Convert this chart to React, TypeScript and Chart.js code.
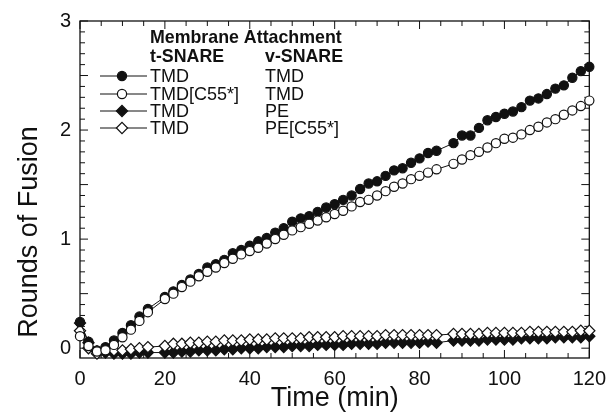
import React, { useEffect, useRef } from "react";
import { Chart, registerables } from "chart.js";

Chart.register(...registerables);

const FONT = '"Liberation Sans", Arial, Helvetica, sans-serif';

// sampling times (min) — note missing samples at 18 and 86 min
const timeMin = [
  0, 2, 4, 6, 8, 10, 12, 14, 16,
  20, 22, 24, 26, 28, 30, 32, 34, 36, 38, 40, 42, 44, 46, 48, 50, 52, 54, 56, 58, 60,
  62, 64, 66, 68, 70, 72, 74, 76, 78, 80, 82, 84,
  88, 90, 92, 94, 96, 98, 100, 102, 104, 106, 108, 110, 112, 114, 116, 118, 120,
];

// t-SNARE TMD / v-SNARE TMD (filled circles)
const tmdTmd = [
  0.24, 0.06, -0.02, 0.01, 0.07, 0.14, 0.21, 0.29, 0.36,
  0.47, 0.52, 0.58, 0.63, 0.68, 0.74, 0.77, 0.81, 0.87, 0.9, 0.94, 0.98, 1.01, 1.06, 1.1, 1.16,
  1.19, 1.21, 1.25, 1.29, 1.32, 1.36, 1.4, 1.46, 1.51, 1.53, 1.58, 1.63, 1.65, 1.7, 1.74, 1.79, 1.81,
  1.88, 1.95, 1.95, 2.02, 2.09, 2.12, 2.15, 2.17, 2.21, 2.27, 2.29, 2.33, 2.38, 2.41, 2.48, 2.54, 2.58,
];

// t-SNARE TMD[C55*] / v-SNARE TMD (open circles)
const c55Tmd = [
  0.11, 0.02, -0.03, -0.02, 0.03, 0.1, 0.17, 0.25, 0.33,
  0.45, 0.5, 0.56, 0.61, 0.66, 0.7, 0.74, 0.78, 0.82, 0.86, 0.89, 0.92, 0.96, 1.0, 1.04, 1.08,
  1.11, 1.14, 1.17, 1.2, 1.23, 1.26, 1.3, 1.34, 1.36, 1.4, 1.44, 1.48, 1.51, 1.55, 1.58, 1.61, 1.64,
  1.69, 1.73, 1.77, 1.8, 1.84, 1.88, 1.92, 1.93, 1.96, 2.0, 2.03, 2.07, 2.1, 2.14, 2.18, 2.22, 2.27,
];

// t-SNARE TMD / v-SNARE PE (filled diamonds)
const tmdPe = [
  0.23, 0.05, -0.03, -0.04, -0.05, -0.05, -0.05, -0.04, -0.04,
  -0.04, -0.04, -0.03, -0.03, -0.02, -0.02, -0.02, -0.01, -0.01, 0.0, 0.0, 0.0, 0.01, 0.01, 0.01, 0.02,
  0.02, 0.02, 0.03, 0.03, 0.03, 0.03, 0.04, 0.04, 0.04, 0.04, 0.05, 0.05, 0.05, 0.05, 0.05, 0.06, 0.05,
  0.07, 0.07, 0.07, 0.07, 0.08, 0.08, 0.08, 0.08, 0.09, 0.09, 0.09, 0.09, 0.1, 0.1, 0.1, 0.1, 0.11,
];

// t-SNARE TMD / v-SNARE PE[C55*] (open diamonds)
const tmdPeC55 = [
  0.16, 0.0, -0.05, -0.02, -0.02, -0.02, -0.01, 0.0, 0.01,
  0.02, 0.04, 0.04, 0.05, 0.05, 0.06, 0.06, 0.07, 0.07, 0.07, 0.08, 0.08, 0.08, 0.09, 0.09, 0.09,
  0.09, 0.1, 0.1, 0.1, 0.1, 0.11, 0.11, 0.11, 0.11, 0.11, 0.12, 0.12, 0.12, 0.12, 0.12, 0.12, 0.12,
  0.13, 0.13, 0.13, 0.13, 0.14, 0.14, 0.14, 0.14, 0.14, 0.15, 0.15, 0.15, 0.15, 0.15, 0.15, 0.16, 0.16,
];

const xTickLabels = [0, 20, 40, 60, 80, 100, 120];
const yTickLabels = [0, 1, 2, 3];
const xTitle = "Time (min)";
const yTitle = "Rounds of Fusion";
const legendHeader = "Membrane Attachment";
const legendColumns = ["t-SNARE", "v-SNARE"];
const legendTSnare = ["TMD", "TMD[C55*]", "TMD", "TMD"];
const legendVSnare = ["TMD", "TMD", "PE", "PE[C55*]"];

type Marker = { shape: "circle" | "diamond"; filled: boolean };
const markers: Marker[] = [
  { shape: "circle", filled: true },
  { shape: "circle", filled: false },
  { shape: "diamond", filled: true },
  { shape: "diamond", filled: false },
];
const seriesValues = [tmdTmd, c55Tmd, tmdPe, tmdPeC55];
const drawOrder = [2, 1, 4, 3];

const INK = "#111";

function drawMarker(ctx: CanvasRenderingContext2D, m: Marker, x: number, y: number) {
  ctx.save();
  ctx.beginPath();
  if (m.shape === "circle") {
    ctx.arc(x, y, 4.6, 0, Math.PI * 2);
  } else {
    const r = 5.6;
    ctx.moveTo(x - r, y);
    ctx.lineTo(x, y - r);
    ctx.lineTo(x + r, y);
    ctx.lineTo(x, y + r);
    ctx.closePath();
  }
  ctx.fillStyle = m.filled ? INK : "#fff";
  ctx.fill();
  ctx.lineWidth = 1.2;
  ctx.strokeStyle = INK;
  ctx.stroke();
  ctx.restore();
}

const framePlugin = {
  id: "frame",
  beforeDatasetsDraw(chart: any) {
    const { ctx, chartArea } = chart;
    const { left, right, top, bottom } = chartArea;
    const xs = chart.scales.x;
    const ys = chart.scales.y;
    ctx.save();
    ctx.strokeStyle = INK;
    ctx.lineWidth = 1.3;
    ctx.strokeRect(left, top, right - left, bottom - top);
    ctx.lineWidth = 1;
    ctx.beginPath();
    for (let i = 0; i <= 24; i++) {
      const v = i * 5;
      const px = xs.getPixelForValue(v);
      const len = v % 20 === 0 ? 8 : 5;
      ctx.moveTo(px, bottom);
      ctx.lineTo(px, bottom - len);
      ctx.moveTo(px, top);
      ctx.lineTo(px, top + len);
    }
    for (let i = 0; i <= 30; i++) {
      const v = i / 10;
      const py = ys.getPixelForValue(v);
      const len = i % 5 === 0 ? 8 : 5;
      ctx.moveTo(left, py);
      ctx.lineTo(left + len, py);
      ctx.moveTo(right, py);
      ctx.lineTo(right - len, py);
    }
    ctx.stroke();
    ctx.restore();
  },
  afterDatasetsDraw(chart: any) {
    const { ctx, chartArea } = chart;
    ctx.save();
    ctx.fillStyle = INK;
    // axis titles
    ctx.font = `27px ${FONT}`;
    ctx.textAlign = "center";
    ctx.textBaseline = "middle";
    ctx.fillText(xTitle, (chartArea.left + chartArea.right) / 2, 399);
    ctx.save();
    ctx.translate(30, 232);
    ctx.rotate(-Math.PI / 2);
    ctx.fillText(yTitle, 0, 0);
    ctx.restore();

    // legend
    const textX = 150;
    const col2X = 265;
    ctx.textAlign = "left";
    ctx.font = `bold 17.8px ${FONT}`;
    ctx.fillText(legendHeader, textX, 38);
    ctx.fillText(legendColumns[0], textX, 57);
    ctx.fillText(legendColumns[1], col2X, 57);
    ctx.font = `18px ${FONT}`;
    const rowY = [76, 94, 111, 128];
    for (let i = 0; i < legendTSnare.length; i++) {
      const y = rowY[i];
      ctx.beginPath();
      ctx.strokeStyle = INK;
      ctx.lineWidth = 1;
      ctx.moveTo(100, y);
      ctx.lineTo(147, y);
      ctx.stroke();
      drawMarker(ctx, markers[i], 122, y);
      ctx.fillStyle = INK;
      ctx.fillText(legendTSnare[i], textX, y + 1);
      ctx.fillText(legendVSnare[i], col2X, y + 1);
    }
    ctx.restore();
  },
};

export default function App() {
  const canvasRef = useRef<HTMLCanvasElement | null>(null);

  useEffect(() => {
    const canvas = canvasRef.current;
    if (!canvas) return;
    const datasets = seriesValues.map((vals, i) => {
      const m = markers[i];
      return {
        label: `${legendTSnare[i]} / ${legendVSnare[i]}`,
        data: timeMin.map((t, j) => ({ x: t, y: vals[j] })),
        borderColor: INK,
        borderWidth: 1,
        pointStyle: m.shape === "circle" ? "circle" : "rectRot",
        pointRadius: m.shape === "circle" ? 4.6 : 5.6,
        pointBorderWidth: 1.2,
        pointBorderColor: INK,
        pointBackgroundColor: m.filled ? INK : "#fff",
        backgroundColor: m.filled ? INK : "#fff",
        tension: 0,
        clip: false as any,
        order: drawOrder[i],
      };
    });
    const chart = new Chart(canvas, {
      type: "line",
      data: { datasets: datasets as any },
      options: {
        animation: false,
        responsive: false,
        devicePixelRatio: 1,
        layout: { padding: { left: 0, right: 24, top: 19, bottom: 0 } },
        plugins: { legend: { display: false }, tooltip: { enabled: false } },
        scales: {
          x: {
            type: "linear",
            min: 0,
            max: 120,
            afterBuildTicks: (s: any) => {
              s.ticks = xTickLabels.map((v) => ({ value: v }));
            },
            afterFit: (s: any) => {
              s.height = 58;
            },
            ticks: {
              font: { family: FONT, size: 20 },
              color: INK,
              padding: 9,
              maxRotation: 0,
              autoSkip: false,
            },
            grid: { display: false, drawTicks: false },
            border: { display: false },
          },
          y: {
            type: "linear",
            min: -0.09,
            max: 3,
            afterBuildTicks: (s: any) => {
              s.ticks = yTickLabels.map((v) => ({ value: v }));
            },
            afterFit: (s: any) => {
              s.width = 80;
            },
            ticks: {
              font: { family: FONT, size: 20 },
              color: INK,
              padding: 9,
              autoSkip: false,
            },
            grid: { display: false, drawTicks: false },
            border: { display: false },
          },
        },
      },
      plugins: [framePlugin],
    });
    return () => chart.destroy();
  }, []);

  return (
    <div style={{ position: "fixed", left: 0, top: 0, width: 615, height: 416, background: "#fff" }}>
      <canvas ref={canvasRef} width={615} height={416} style={{ width: 615, height: 416, display: "block" }} />
    </div>
  );
}
